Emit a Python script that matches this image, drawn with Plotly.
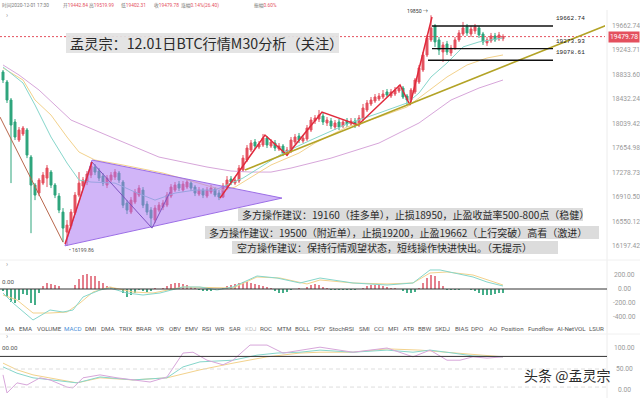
import numpy as np
import plotly.graph_objects as go

W, H = 640, 398
def px(x):
    return x / W
def py(y):
    return 1 - y / H

# ---------------- data ----------------
opens = [18882, 18716, 18421, 18068, 17783, 17878, 17941, 17518, 17091, 16971,
         17121, 17197, 17288, 17091, 16926, 16689, 16397, 16484, 16674, 16941,
         17076, 17137, 17242, 17365, 17304, 17227, 17091, 17167, 17212, 17273,
         17137, 16822, 16689, 16837, 16941, 17016, 16807, 16718, 16572, 16718,
         16762, 16792, 16926, 17016, 17106, 17016, 17061, 17121, 17061, 16956,
         17016, 16926, 16986, 17031, 16971, 16911, 17046, 17182, 17121, 17152,
         17319, 17472, 17627, 17752, 17674, 17705, 17815, 17689, 17736, 17642,
         17689, 17564, 17611, 17752, 17846, 17768, 17799, 17941, 18083, 18115,
         18163, 18052, 18083, 17988, 18068, 18004, 18083, 18036, 18083, 18020,
         18115, 18260, 18357, 18405, 18438, 18470, 18552, 18486, 18519, 18568,
         18617, 18486, 18421, 18552, 18716, 18915, 19167, 19423, 19663, 19423,
         19218, 19354, 19201, 19286, 19423, 19525, 19646, 19525, 19577, 19629,
         19525, 19372, 19406, 19491, 19440, 19442.84]
highs = [18915, 18749, 18454, 18115, 17988, 18004, 17972, 17549, 17121, 17197,
         17288, 17396, 17319, 17121, 16971, 16748, 16572, 16733, 16986, 17288,
         17212, 17304, 17441, 17411, 17349, 17273, 17242, 17288, 17334, 17304,
         17167, 16866, 16911, 17031, 17091, 17061, 16851, 16762, 16792, 16837,
         16866, 16986, 17106, 17137, 17152, 17152, 17182, 17152, 17091, 17061,
         17046, 17061, 17091, 17061, 17016, 17121, 17227, 17227, 17212, 17396,
         17549, 17705, 17783, 17799, 17768, 17878, 17846, 17799, 17783, 17736,
         17720, 17674, 17830, 17878, 17894, 17862, 18020, 18147, 18179, 18260,
         18211, 18147, 18131, 18099, 18115, 18115, 18131, 18131, 18131, 18179,
         18357, 18421, 18470, 18519, 18535, 18584, 18601, 18601, 18634, 18667,
         18650, 18519, 18617, 18782, 18999, 19218, 19508, 19850, 19698, 19474,
         19389, 19406, 19337, 19474, 19594, 19733, 19698, 19663, 19698, 19663,
         19560, 19474, 19543, 19543, 19560, 19519.99]
lows = [18699, 18373, 17121, 17783, 17752, 17846, 17502, 16382, 16866, 16926,
        17091, 17061, 17046, 16896, 16674, 16253, 16199.86, 16441, 16645, 16911,
        17031, 17091, 17197, 17242, 17152, 17076, 17046, 17137, 17167, 17121,
        16748, 16660, 16660, 16807, 16911, 16748, 16645, 16470, 16528, 16689,
        16718, 16762, 16896, 16986, 17001, 16986, 17031, 17001, 16926, 16926,
        16896, 16896, 16956, 16911, 16866, 16896, 17016, 17091, 17091, 17121,
        17288, 17441, 17596, 17642, 17642, 17674, 17658, 17658, 17611, 17611,
        17533, 17533, 17580, 17720, 17736, 17736, 17768, 17909, 18036, 18068,
        18020, 18004, 17957, 17941, 17941, 17972, 17988, 18004, 17972, 17988,
        18083, 18227, 18324, 18373, 18405, 18438, 18470, 18454, 18486, 18535,
        18438, 18340, 18389, 18519, 18683, 18882, 19133, 19389, 19303, 19167,
        19049, 19167, 19150, 19252, 19389, 19491, 19491, 19474, 19525, 19457,
        19337, 19320, 19372, 19389, 19406, 19402.31]
closes = [18749, 18421, 18020, 17830, 17941, 17972, 17549, 17091, 16941, 17167,
          17242, 17349, 17091, 16941, 16718, 16455, 16499, 16689, 16941, 17121,
          17167, 17258, 17380, 17288, 17197, 17121, 17197, 17242, 17288, 17167,
          16791, 16718, 16866, 16986, 17046, 16791, 16689, 16601, 16748, 16792,
          16822, 16941, 17061, 17091, 17046, 17106, 17137, 17046, 16971, 17016,
          16941, 17016, 17046, 16941, 16911, 17076, 17167, 17137, 17167, 17349,
          17502, 17658, 17736, 17689, 17720, 17815, 17705, 17752, 17658, 17689,
          17580, 17627, 17783, 17830, 17783, 17815, 17972, 18099, 18131, 18179,
          18068, 18099, 18004, 18052, 17988, 18068, 18036, 18083, 18020, 18131,
          18292, 18373, 18421, 18470, 18486, 18519, 18503, 18552, 18584, 18617,
          18470, 18421, 18584, 18749, 18949, 19167, 19457, 19629, 19389, 19252,
          19337, 19218, 19286, 19423, 19543, 19629, 19543, 19611, 19646, 19508,
          19389, 19423, 19491, 19423, 19508, 19479.78]
candle_idx = list(range(len(closes)))

ma_short_x = [0, 5, 8, 12, 16, 19, 22, 28, 33, 38, 43, 48, 53, 57, 60, 64, 70, 77, 86, 94, 101, 104, 107, 111, 115, 119, 125]
ma_short = [18965, 18700, 18340, 17830, 17426, 17167, 17137, 17121, 16986, 16866, 16971, 17016, 17016, 17121, 17197, 17349,
            17580, 17783, 18036, 18211, 18373, 18535, 18799, 19032, 19303, 19389, 19457]
ma_mid_x = [0, 5, 8, 12, 16, 19, 23, 30, 40, 48, 55, 58, 62, 67, 74, 78, 86, 94, 101, 106, 111, 116, 121, 125]
ma_mid = [18949, 18749, 18421, 18179, 17830, 17596, 17472, 17396, 17273, 17137, 17016, 17061, 17212, 17396, 17580, 17736,
          17988, 18147, 18308, 18552, 18799, 18999, 19116, 19167]
ma_long_x = [0, 4, 9, 17, 27, 39, 51, 57, 62, 67, 72, 82, 94, 104, 112, 119, 125]
ma_long = [18999, 18832, 18584, 18099, 17830, 17518, 17365, 17304, 17288, 17288, 17349, 17502, 17736, 18052, 18421, 18617, 18749]

# drawn lines
brown_x = [-0.75, 15]
brown_y = [18147, 16253]
tri_x = [15.5, 22.25, 69.75, 15.5]
tri_y = [16200, 17472, 16896, 16200]
tri_zz_x = [22.25, 37.25, 41.75]
tri_zz_y = [17441, 16455, 16986]
red_a_x = [15.5, 22.25]
red_a_y = [16225, 17441]
red_b_x = [54.25, 65.5, 71, 79.75, 88.75, 99.25, 101.75, 107.25]
red_b_y = [16896, 17862, 17549, 18227, 18020, 18667, 18340, 19820]
trend_x = [60.5, 151]
trend_y = [17319, 19680]
levels = [19662.74, 19273.93, 19078.61]
level_start = [107.25, 107.25, 106.25]
level_end = 137.5
last_price = 19479.78
peak_price = 19850
low_price = 16199.86

macd_hist = [-30, -120, -180, -200, -150, -70, -80, -200, -230, -60,
             40, 90, 70, 60, 40, 5, 0, 5, 60, 150,
             200, 210, 190, 180, 120, 80, 50, 30, 20, 5,
             -60, -110, -90, -50, -20, -30, -40, -25, 10, 5,
             10, 40, 70, 85, 80, 75, 60, 30, 10, -10,
             -25, -30, -25, -20, -15, 10, 40, 55, 70, 85,
             95, 100, 90, 75, 60, 50, 30, 10, -30, -55,
             -60, -40, -15, 5, 10, 5, 30, 60, 70, 55,
             35, 10, -10, -15, -20, -15, -10, -15, -10, 5,
             20, 40, 55, 60, 55, 50, 35, 20, 10, 5,
             -30, -55, -60, -40, 20, 90, 160, 200, 185, 120,
             40, -15, -20, -20, -10, 5, -5, -10, -30, -60,
             -80, -85, -80, -70, -60, -50]
dif_x = [0, 2.5, 7.5, 11.75, 15, 17.5, 20, 24.25, 26.75, 31, 35, 39.25, 45, 49.25, 53.5, 57.5, 63.5, 68.5, 74.25, 79.25,
         87.5, 96, 102.5, 106.75, 109.25, 112.5, 117.5, 121, 125]
dif = [-57, -200, -443, -300, -329, -300, -114, -14, 14, -57, -86, -57, 29, 29, -14, 29, 186, 157, 86, 157,
       86, 57, 86, 272, 272, 229, 172, 100, 43]
dea_x = [0, 3.5, 7.5, 11.75, 16, 19.25, 22.5, 26.75, 32.5, 37.5, 45, 53.5, 57.5, 63.5, 69.25, 76, 79.25, 87.5, 96,
         102.5, 106.75, 111, 117.5, 125]
dea = [-86, -157, -343, -343, -329, -200, -43, 29, -43, -57, 29, 14, 14, 172, 157, 72, 129, 86, 72, 86, 229, 243, 200, 57]

kdj_j_x = [0, 1, 3.5, 6, 9.25, 11.75, 16, 17.5, 20, 24.25, 28.5, 32.5, 36.75, 41, 45, 47.5, 51, 55, 57.5, 61.75, 66, 70,
           74.25, 79.25, 87.5, 96, 102.5, 106.75, 111, 114.25, 117.5, 121, 125]
kdj_j = [36, -7, 17, 12, 29, 24, 7, 5, 29, 36, 29, 24, 19, 31, 88, 90, 71, 60, 71, 107, 107, 88, 95, 102, 90, 100, 79, 95,
         71, 71, 79, 76, 79]
kdj_d_x = [0, 3.5, 7.5, 11.75, 18.5, 24.25, 32.5, 41, 45, 49.25, 57.5, 63.5, 68.5, 74.25, 79.25, 87.5, 96, 102.5, 106.75,
           112.5, 117.5, 125]
kdj_d = [55, 40, 29, 24, 17, 31, 24, 29, 55, 67, 71, 83, 88, 90, 95, 90, 95, 90, 95, 88, 81, 79]
kdj_k_x = [0, 3.5, 7.5, 11.75, 18.5, 24.25, 32.5, 41, 49.25, 57.5, 66, 74.25, 79.25, 87.5, 96, 104.25, 112.5, 125]
kdj_k = [64, 48, 36, 29, 17, 29, 24, 29, 48, 64, 79, 88, 90, 90, 98, 95, 88, 79]
kdj_lines = [80, 50, 7]

price_ticks = [19662.74, 19243.71, 18833.60, 18432.24, 18039.42, 17654.98, 17278.73, 16910.50, 16550.12, 16197.42]
macd_ticks = [200, 0, -200, -400, -600]
kdj_ticks = [100, 50, 0]
left_cut_labels = ["0.00", "00.00"]

menu_items = ["MA", "EMA", "VOLUME", "MACD", "DMI", "DMA", "TRIX", "BRAR", "VR", "OBV", "EMV", "RSI", "WR", "SAR",
              "KDJ", "ROC", "MTM", "BOLL", "PSY", "StochRSI", "SMI", "CCI", "MFI", "ATR", "BBW", "SKDJ", "BIAS",
              "DPO", "AO", "Position", "Fundflow", "AI-NetVOL", "LSUR"]

header_items = [("时间", "2020-12-01 17:30", False), ("开", "19442.84", True), ("高", "19519.99", True),
                ("低", "19402.31", True), ("收", "19479.78", True), ("涨幅", "0.14%(26.40)", True),
                ("振幅", "0.60%", True)]

title_text = "孟灵宗：12.01日BTC行情M30分析（关注）"
advice = ["多方操作建议：19160（挂多单），止损18950，止盈收益率500-800点（稳健）",
          "多方操作建议：19500（附近单），止损19200，止盈19662（上行突破）高看（激进）",
          "空方操作建议：保持行情观望状态，短线操作快进快出。（无提示）"]
watermark = "头条 @孟灵宗"

# ---------------- style / layout ----------------
RED = "#e4505e"
GREEN = "#2ea57c"
CYAN = "#86d6cb"
YEL = "#f3d28c"
PINK = "#d7a6da"
CJK = "Noto Sans CJK SC"
NUM = "Roboto, Noto Sans CJK SC"

menu_x = [3, 17, 35, 62, 83, 99, 117, 134, 154, 167, 183, 200, 213, 227, 243, 258, 275, 293, 312, 327, 357, 372,
          386, 401, 416, 433, 453, 469, 487, 499, 526, 555, 587]
header_x = [0, 61, 87, 119, 152, 179, 252]

XR = [-0.75, -0.75 + 605 / 4]
fig = go.Figure()

def line(x, y, color, width=1, yaxis="y", dash=None, fill=None, fillcolor=None, mode="lines"):
    fig.add_trace(go.Scatter(x=x, y=y, mode=mode, line=dict(color=color, width=width, dash=dash),
                             fill=fill, fillcolor=fillcolor, yaxis=yaxis, xaxis="x",
                             hoverinfo="skip", showlegend=False))

# moving averages
line(ma_long_x, ma_long, PINK)
line(ma_mid_x, ma_mid, YEL)
line(ma_short_x, ma_short, CYAN)

# current price dashed line
line(XR, [last_price, last_price], RED, 1, dash="2px,2px")

fig.add_trace(go.Candlestick(x=candle_idx, open=opens, high=highs, low=lows, close=closes,
                             increasing=dict(line=dict(color=RED, width=1), fillcolor=RED),
                             decreasing=dict(line=dict(color=GREEN, width=1), fillcolor=GREEN),
                             whiskerwidth=0, xaxis="x", yaxis="y", hoverinfo="skip", showlegend=False))

# drawings
line(tri_x, tri_y, "#9c6ee6", 1, fill="toself", fillcolor="rgba(172,120,242,0.55)")
line(tri_zz_x, tri_zz_y, "#7d52c0", 1)
line(brown_x, brown_y, "#b8674c", 1)
line(red_a_x, red_a_y, "#e02a3c", 1.5)
line(red_b_x, red_b_y, "#e02a3c", 1.5)
line(trend_x, trend_y, "#b3a326", 1.6)
for lv, s in zip(levels, level_start):
    line([s, level_end], [lv, lv], "#111111", 1.4)

# MACD
fig.add_trace(go.Bar(x=candle_idx, y=macd_hist, width=0.5,
                     marker=dict(color=["rgba(222,96,112,0.8)" if v >= 0 else "rgba(38,160,118,0.85)" for v in macd_hist],
                                 line=dict(width=0)),
                     xaxis="x", yaxis="y2", hoverinfo="skip", showlegend=False))
line(dea_x, dea, YEL, 1, yaxis="y2")
line(dif_x, dif, CYAN, 1, yaxis="y2")

# KDJ
line(kdj_k_x, kdj_k, YEL, 1, yaxis="y3")
line(kdj_d_x, kdj_d, CYAN, 1, yaxis="y3")
line(kdj_j_x, kdj_j, PINK, 1, yaxis="y3")

shapes = []
# panel separators / axis divider
shapes.append(dict(type="line", xref="paper", yref="paper", x0=px(607), x1=px(607), y0=0, y1=py(10),
                   line=dict(color="#ececec", width=1)))
for yy in [260, 334]:
    shapes.append(dict(type="line", xref="paper", yref="paper", x0=0, x1=1, y0=py(yy), y1=py(yy),
                       line=dict(color="#f0f0f0", width=1)))
# MACD zero line
shapes.append(dict(type="line", xref="paper", yref="y2", x0=0, x1=px(607), y0=0, y1=0,
                   line=dict(color="#333333", width=1)))
# KDJ reference lines
shapes.append(dict(type="line", xref="paper", yref="y3", x0=0, x1=px(607), y0=kdj_lines[0], y1=kdj_lines[0],
                   line=dict(color="#333333", width=1)))
for v in kdj_lines[1:]:
    shapes.append(dict(type="line", xref="paper", yref="y3", x0=0, x1=px(607), y0=v, y1=v,
                       line=dict(color="#dddddd", width=1, dash="4px,3px")))
# title + advice boxes
shapes.append(dict(type="rect", xref="paper", yref="paper", x0=px(66), x1=px(339), y0=py(53), y1=py(33),
                   fillcolor="rgba(226,226,226,0.92)", line=dict(width=0)))
boxes = [(238, 583, 208, 221), (205, 599, 226, 239), (232, 558, 241, 254)]
for (x0, x1, y0, y1) in boxes:
    shapes.append(dict(type="rect", xref="paper", yref="paper", x0=px(x0), x1=px(x1), y0=py(y1), y1=py(y0),
                       fillcolor="rgba(214,214,214,0.85)", line=dict(width=0)))

ann = []
def text(x, y, t, size, color="#333", family=NUM, xanchor="left", yanchor="middle", xref="paper", yref="paper", **kw):
    ann.append(dict(x=x, y=y, text=t, xref=xref, yref=yref, showarrow=False, xanchor=xanchor, yanchor=yanchor,
                    font=dict(size=size, color=color, family=family), **kw))

# header line
for (lab, val, red), hx in zip(header_items, header_x):
    t = lab + (f"<span style='color:{RED}'>{val}</span>" if red else val)
    text(px(hx), py(6), t, 4.8, "#777")
for yy in [16, 265, 337]:
    text(px(4), py(yy), "›", 7, "#999")
text(px(0), py(282), left_cut_labels[0], 6.2, "#555")
text(px(0), py(348), left_cut_labels[1], 6.2, "#555")

# title
text(px(68), py(43), title_text, 14.2, "#2a2a2a", CJK)
# advice
for t, (x0, x1, y0, y1), tx in zip(advice, boxes, [240, 207, 235]):
    text(px(tx), py((y0 + y1) / 2), t, 10, "#2a2a2a", CJK)

# right axis labels
for v in price_ticks:
    text(px(626), np.log10(v), f"{v:.2f}", 6.7, "#9a9a9a", xanchor="center", yref="y")
for v in macd_ticks:
    text(px(624), v, f"{v:.2f}", 6.7, "#9a9a9a", xanchor="center", yref="y2")
for v in kdj_ticks:
    text(px(624), v, f"{v:.2f}", 6.7, "#9a9a9a", xanchor="center", yref="y3")
text(px(623.5), np.log10(last_price), f"{last_price:.2f}", 6.7, "#ffffff", xanchor="center", yref="y",
     bgcolor=RED, borderpad=1)

# level labels
for lv in levels:
    text(level_end, np.log10(lv), f"{lv:.2f}", 6, "#222", "Liberation Mono", xref="x", yref="y",
         yanchor="bottom", yshift=2, xshift=1)
text(106.75, np.log10(peak_price), f"{peak_price} →", 5.2, "#333", xanchor="right", xref="x", yref="y",
     yanchor="bottom", yshift=-1)
text(16, np.log10(low_price), "• " + f"{low_price:.2f}", 5.2, "#555", xref="x", yref="y", yanchor="top", yshift=1)

# indicator menu
for name, mx in zip(menu_items, menu_x):
    c = "#4a8fd8" if name == "MACD" else ("#bdbdbd" if name == "KDJ" else "#555")
    text(px(mx), py(329), name, 6.2, c)

# watermark
text(px(612), py(375), watermark, 14, "#2b2b2b", CJK, xanchor="right")

fig.update_layout(
    width=W, height=H, margin=dict(l=0, r=0, t=0, b=0),
    paper_bgcolor="white", plot_bgcolor="white", showlegend=False, bargap=0,
    xaxis=dict(domain=[0, 605 / W], range=XR, visible=False, rangeslider=dict(visible=False), fixedrange=True),
    yaxis=dict(type="log", domain=[py(258), py(12)], range=[4.20486, 4.29900], visible=False, fixedrange=True),
    yaxis2=dict(domain=[py(324), py(262)], range=[-500, 386], visible=False, anchor="x", fixedrange=True),
    yaxis3=dict(domain=[py(398), py(336)], range=[-19.05, 128.6], visible=False, anchor="x", fixedrange=True),
    shapes=shapes, annotations=ann,
)

fig.write_html("out.html", config={"displayModeBar": False},
               post_script="document.body.style.margin='0';document.body.style.overflow='hidden';")
